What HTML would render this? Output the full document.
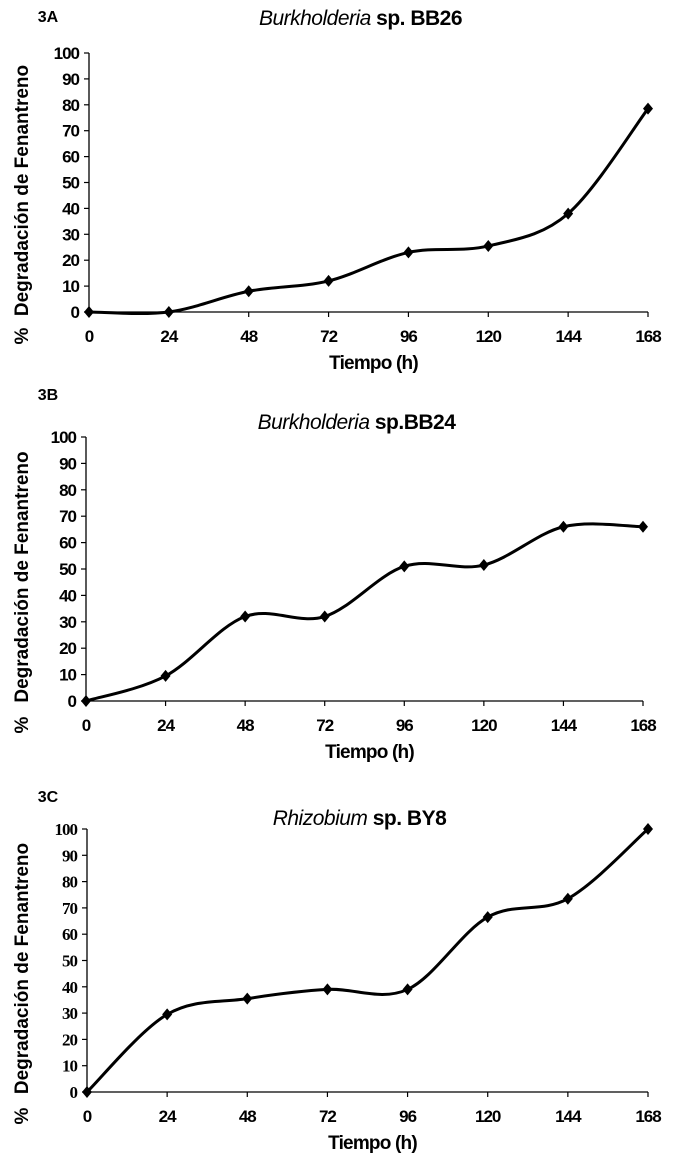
<!DOCTYPE html>
<html><head><meta charset="utf-8"><style>
html,body{margin:0;padding:0;background:#fff;}
svg{display:block;}
text{font-family:"Liberation Sans",sans-serif;font-weight:bold;fill:#000;}
</style></head><body>
<svg id="s" width="676" height="1161" viewBox="0 0 676 1161"></svg>
<script>
const categories=[0,24,48,72,96,120,144,168];
const yTicks=[0,10,20,30,40,50,60,70,80,90,100];
const seriesA=[0,0,8,12,23,25.5,38,78.5];
const seriesB=[0,9.5,32,32,51,51.5,66,66];
const seriesC=[0,29.5,35.5,39,39,66.5,73.5,100];
const panels=[
 {id:'a',label:'3A',it:'Burkholderia',rest:' sp. BB26',data:seriesA,x0:89,x1:648,y0:312,y1:53,lab:[48,22],tt:25,serif:false},
 {id:'b',label:'3B',it:'Burkholderia',rest:' sp.BB24',data:seriesB,x0:86,x1:643,y0:701,y1:437,lab:[48,400],tt:429,serif:false},
 {id:'c',label:'3C',it:'Rhizobium',rest:' sp. BY8',data:seriesC,x0:87,x1:648,y0:1092,y1:829,lab:[48,802],tt:825,serif:true}
];
const NS='http://www.w3.org/2000/svg';
const svg=document.getElementById('s');
function mk(t,a,p){const e=document.createElementNS(NS,t);for(const k in a)e.setAttribute(k,a[k]);(p||svg).appendChild(e);return e;}
panels.forEach(P=>{
 const g=mk('g',{});
 
 
 const sx=v=>P.x0+(v-categories[0])/(categories[categories.length-1]-categories[0])*(P.x1-P.x0);
 const sy=v=>P.y0+(v/100)*(P.y1-P.y0);
 const pl=mk('text',{x:P.lab[0],y:P.lab[1],'font-size':16,'text-anchor':'middle'},g);pl.textContent=P.label;
 
 const t=mk('text',{x:(P.x0+P.x1)/2-8,y:P.tt,'font-size':21,'text-anchor':'middle','letter-spacing':'-0.5'},g);
 
 const ts1=mk('tspan',{'font-style':'italic',style:'font-weight:normal'},t);ts1.textContent=P.it;
 const ts2=mk('tspan',{},t);ts2.textContent=P.rest;
 const ax=mk('path',{d:`M${P.x0},${P.y1}V${P.y0}H${P.x1}`,stroke:'#000','stroke-width':1.3,fill:'none'},g);
 
 yTicks.forEach(v=>{
  mk('line',{x1:P.x0-5,x2:P.x0,y1:sy(v),y2:sy(v),stroke:'#000','stroke-width':1.2},g);
  const l=mk('text',{x:P.x0-10,y:sy(v)+6,'font-size':P.serif?17:17,'text-anchor':'end','letter-spacing':'-1',style:P.serif?'font-family:"Liberation Serif",serif':''},g);
  l.textContent=v;
  
 });
 categories.forEach(c=>{
  mk('line',{x1:sx(c),x2:sx(c),y1:P.y0,y2:P.y0+5,stroke:'#000','stroke-width':1.2},g);
  const l=mk('text',{x:sx(c),y:P.y0+30,'font-size':17,'text-anchor':'middle','letter-spacing':'-1'},g);
  l.textContent=c;
  
 });
 const xt=mk('text',{x:(P.x0+P.x1)/2+5,y:P.y0+57,'font-size':19,'text-anchor':'middle','letter-spacing':'-0.8'},g);
 xt.textContent='Tiempo (h)';
 
 const yt=mk('text',{transform:`translate(28,${(P.y0+P.y1)/2+8}) rotate(-90)`,'font-size':19,'text-anchor':'middle'},g);
 yt.textContent='Degradación de Fenantreno';
 
 const pc=mk('text',{transform:`translate(28,${P.y0+24}) rotate(-90)`,'font-size':19,'text-anchor':'middle'},g);
 pc.textContent='%';
 
 const pts=categories.map((c,i)=>[sx(c),sy(P.data[i])]);
 let d=`M${pts[0][0]},${pts[0][1]}`;
 const k=1/6;
 for(let i=0;i<pts.length-1;i++){
  const p0=pts[Math.max(0,i-1)],p1=pts[i],p2=pts[i+1],p3=pts[Math.min(pts.length-1,i+2)];
  d+=`C${p1[0]+(p2[0]-p0[0])*k},${p1[1]+(p2[1]-p0[1])*k} ${p2[0]-(p3[0]-p1[0])*k},${p2[1]-(p3[1]-p1[1])*k} ${p2[0]},${p2[1]}`;
 }
 const ln=mk('path',{d:d,stroke:'#000','stroke-width':3,fill:'none'},g);
 
 pts.forEach(p=>{
  const m=mk('path',{d:`M${p[0]},${p[1]-6}L${p[0]+5},${p[1]}L${p[0]},${p[1]+6}L${p[0]-5},${p[1]}Z`,fill:'#000'},g);
  
 });
});
</script>
</body></html>
